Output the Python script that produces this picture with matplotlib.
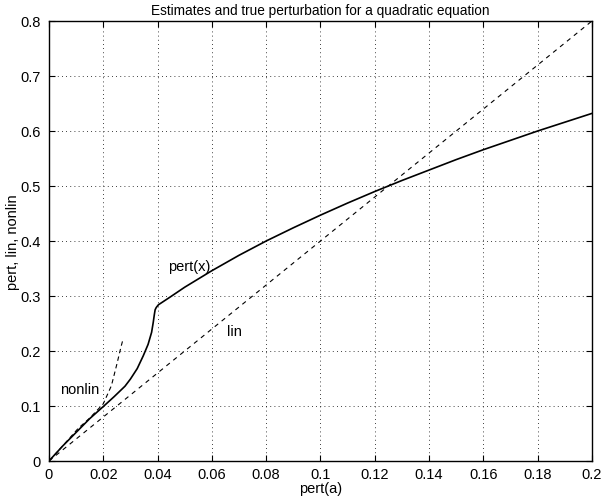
import numpy as np
import matplotlib
matplotlib.use("Agg")
import matplotlib.pyplot as plt

plt.rcParams["font.family"] = ["Liberation Sans", "DejaVu Sans"]

# true perturbation of the root, pert(x), against pert(a)
pert_a = [0.0, 0.005, 0.0108, 0.015, 0.02, 0.024, 0.028, 0.030, 0.0325,
          0.0347, 0.0365, 0.0378, 0.0384, 0.0388, 0.0391, 0.0395, 0.0403,
          0.0446, 0.05, 0.06, 0.07, 0.08, 0.09, 0.10, 0.11, 0.12, 0.13, 0.14,
          0.15, 0.16, 0.17, 0.18, 0.19, 0.20]
pert_x = [0.0, 0.027, 0.056, 0.077, 0.099, 0.117, 0.136, 0.149, 0.168,
          0.191, 0.212, 0.234, 0.252, 0.266, 0.275, 0.279, 0.284,
          0.298, 0.316, 0.346, 0.374, 0.40, 0.424, 0.447, 0.469, 0.49, 0.51,
          0.529, 0.548, 0.566, 0.583, 0.60, 0.616, 0.632]

# linear estimate
lin_a = [0.0, 0.2]
lin_y = [0.0, 0.8]

# nonlinear estimate
nonlin_a = [0.0, 0.005, 0.0107, 0.015, 0.02, 0.023, 0.025, 0.0265, 0.0272]
nonlin_y = [0.0, 0.027, 0.059, 0.078, 0.104, 0.137, 0.176, 0.207, 0.22]

FS = 10.5

fig = plt.figure(figsize=(6.01, 5.02), dpi=100)
ax = fig.add_axes([0.0815, 0.0797, 0.9035, 0.8765])

ax.plot(pert_a, pert_x, "-", color="black", lw=1.2)
ax.plot(lin_a, lin_y, "--", color="black", lw=0.8, dashes=(4, 4))
ax.plot(nonlin_a, nonlin_y, "--", color="black", lw=0.8, dashes=(4, 3))

ax.text(0.0438, 0.355, "pert(x)", fontsize=FS, va="center")
ax.text(0.0655, 0.236, "lin", fontsize=FS, va="center")
ax.text(0.004, 0.131, "nonlin", fontsize=FS, va="center")

ax.set_xlim(0, 0.2)
ax.set_ylim(0, 0.8)
ax.set_xticks(np.arange(0, 0.201, 0.02))
ax.set_yticks(np.arange(0, 0.801, 0.1))
ax.set_xticklabels(["0", "0.02", "0.04", "0.06", "0.08", "0.1", "0.12",
                    "0.14", "0.16", "0.18", "0.2"])
ax.set_yticklabels(["0", "0.1", "0.2", "0.3", "0.4", "0.5", "0.6", "0.7", "0.8"])
ax.tick_params(direction="in", top=True, right=True, length=4, width=0.8,
               labelsize=FS)
ax.tick_params(axis="x", pad=4)
ax.tick_params(axis="y", pad=6)
ax.grid(True, color="black", linestyle=(0, (1, 4)), linewidth=0.6)
for s in ax.spines.values():
    s.set_linewidth(1.0)

ax.set_xlabel("pert(a)", fontsize=FS, labelpad=0)
ax.set_ylabel("pert, lin, nonlin", fontsize=FS, labelpad=0)
ax.set_title("Estimates and true perturbation for a quadratic equation",
             fontsize=9.8, pad=5)

fig.savefig("out.png", dpi=100)
